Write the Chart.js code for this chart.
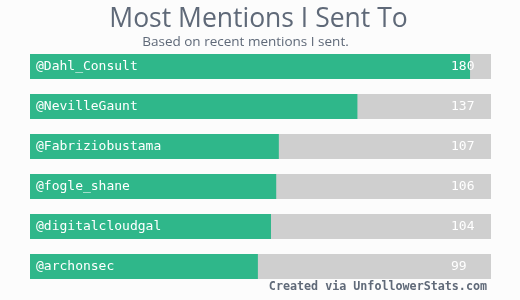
<!DOCTYPE html>
<html>
<head>
<meta charset="utf-8">
<script src="https://cdn.jsdelivr.net/npm/chart.js@4/dist/chart.umd.min.js"></script>
<style>
  html, body { margin:0; padding:0; background:#fcfcfc; }
  #wrap { position:relative; width:520px; height:300px; overflow:hidden; }
  #c { position:absolute; left:0; top:0; }
  .t { position:absolute; white-space:nowrap; color:#5f6978; }
  #title { left:0; width:517px; text-align:center; top:0px; font:26.5px "Open Sans", sans-serif; line-height:34px; }
  #sub { left:0; width:491px; text-align:center; top:32px; font:13.5px "Open Sans", sans-serif; line-height:18px; }
  #foot { right:33px; top:278px; font:bold 11.7px "DejaVu Sans Mono", monospace; line-height:16px; }
</style>
</head>
<body>
<div id="wrap">
  <canvas id="c" width="520" height="300"></canvas>
  <div class="t" id="title">Most Mentions I Sent To</div>
  <div class="t" id="sub">Based on recent mentions I sent.</div>
  <div class="t" id="foot">Created via UnfollowerStats.com</div>
</div>
<script>
const categories = ["@Dahl_Consult", "@NevilleGaunt", "@Fabriziobustama", "@fogle_shane", "@digitalcloudgal", "@archonsec"];
const mentions = [180, 137, 107, 106, 104, 99];
const axisMin = 12;
const axisMax = 188;
const trackValues = categories.map(() => axisMax);

const labelPlugin = {
  id: 'barLabels',
  afterDatasetsDraw(chart) {
    const ctx = chart.ctx;
    const meta = chart.getDatasetMeta(0);
    const xs = chart.scales.x;
    ctx.save();
    ctx.fillStyle = '#ffffff';
    ctx.textBaseline = 'middle';
    ctx.font = '13px "DejaVu Sans Mono", monospace';
    meta.data.forEach((bar, i) => {
      ctx.textAlign = 'left';
      ctx.fillText(categories[i], xs.left + 6, bar.y);
      ctx.fillText(String(mentions[i]), xs.right - 40, bar.y);
    });
    ctx.restore();
  }
};

new Chart(document.getElementById('c'), {
  type: 'bar',
  data: {
    labels: categories,
    datasets: [
      { data: mentions, backgroundColor: '#2fb78a', grouped: false, order: 1,
        categoryPercentage: 1, barPercentage: 0.625, borderWidth: 0 },
      { data: trackValues, backgroundColor: '#cfcfcf', grouped: false, order: 2,
        categoryPercentage: 1, barPercentage: 0.625, borderWidth: 0 }
    ]
  },
  options: {
    indexAxis: 'y',
    responsive: false,
    animation: false,
    events: [],
    layout: { padding: { left: 30, right: 29, top: 46.5, bottom: 13.5 } },
    plugins: { legend: { display: false }, tooltip: { enabled: false }, title: { display: false } },
    scales: {
      x: { display: false, min: axisMin, max: axisMax },
      y: { display: false }
    }
  },
  plugins: [labelPlugin]
});
</script>
</body>
</html>
